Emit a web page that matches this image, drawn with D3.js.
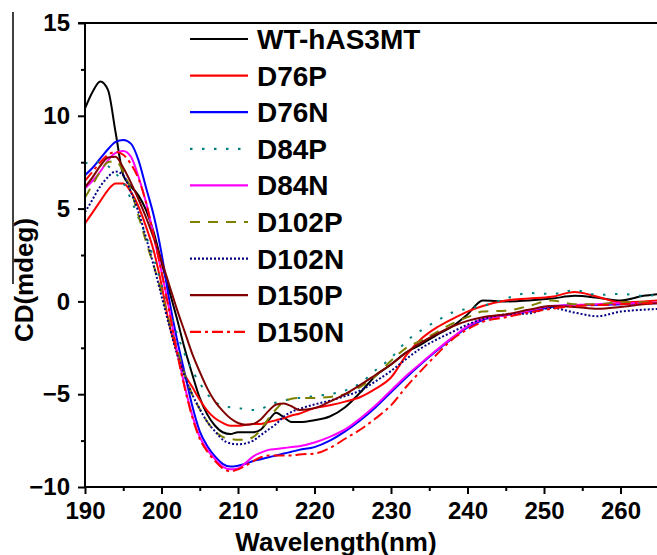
<!DOCTYPE html>
<html>
<head>
<meta charset="utf-8">
<script src="https://cdn.jsdelivr.net/npm/d3@7"></script>
<style>
  body { margin: 0; background: #fff; }
  text { font-family: "Liberation Sans", Arial, sans-serif; font-weight: bold; fill: #000; }
</style>
</head>
<body>
<svg id="chart" width="657" height="555"></svg>
<script>
// wavelength grid (nm) shared by every spectrum
var wavelength = [190,191,192,193,194,195,196,197,198,199,200,201,202,203,204,205,206,207,208,209,
  210,211,212,213,214,215,216,217,218,220,222,224,226,228,230,232,234,236,238,240,242,
  245,248,251,254,257,260,263,265];

var wt = [10.4,11.3,11.85,11.4,9.1,6.8,6.2,5.7,4.9,3.7,2.1,0.6,-0.9,-2.5,-3.9,-5.2,-6.1,-6.7,-7.05,-7.15,
  -7.05,-7.05,-7.05,-6.9,-6.4,-6.0,-6.25,-6.5,-6.5,-6.4,-6.2,-5.7,-4.9,-4.0,-3.4,-2.75,-2.3,-1.8,-1.35,-0.7,0.05,
  0.0,0.05,0.15,0.3,0.2,0.05,0.3,0.4];
var d76p = [4.2,4.8,5.4,6.0,6.35,6.35,5.9,5.1,4.0,2.7,0.9,-1.2,-2.7,-3.9,-4.6,-5.3,-5.9,-6.3,-6.55,-6.7,
  -6.7,-6.65,-6.6,-6.6,-6.5,-6.4,-6.3,-6.15,-6.05,-5.75,-5.6,-5.4,-5.15,-4.7,-4.1,-2.9,-2.0,-1.4,-0.95,-0.55,-0.25,
  0.05,0.15,0.25,0.5,0.25,-0.05,0.0,0.05];
var d76n = [6.8,7.2,7.7,8.2,8.6,8.7,8.5,7.6,6.1,4.6,2.6,0.1,-2.0,-3.8,-5.6,-7.0,-7.8,-8.35,-8.75,-8.9,
  -8.85,-8.75,-8.6,-8.5,-8.4,-8.3,-8.2,-8.1,-8.0,-7.85,-7.5,-7.0,-6.4,-5.7,-4.9,-4.1,-3.35,-2.65,-2.0,-1.4,-1.0,
  -0.75,-0.55,-0.3,-0.2,-0.2,-0.15,-0.1,-0.1];
var d84p = [7.45,7.5,7.5,7.3,6.9,6.4,5.5,4.5,3.5,2.3,0.9,-0.4,-1.7,-2.8,-3.7,-4.4,-5.0,-5.4,-5.65,-5.7,
  -5.75,-5.8,-5.85,-5.8,-5.6,-5.45,-5.35,-5.25,-5.2,-5.1,-5.0,-4.8,-4.4,-3.7,-3.05,-2.15,-1.55,-1.05,-0.6,-0.4,-0.25,
  0.15,0.45,0.4,0.6,0.35,0.4,0.3,0.35];
var d84n = [6.1,6.5,7.0,7.6,8.0,8.1,7.8,6.7,5.3,3.5,1.6,-0.4,-2.6,-4.5,-6.1,-7.3,-8.0,-8.5,-8.9,-9.05,
  -9.0,-8.7,-8.35,-8.15,-8.0,-7.95,-7.9,-7.85,-7.8,-7.6,-7.3,-6.9,-6.3,-5.6,-4.8,-4.0,-3.3,-2.6,-1.95,-1.35,-0.95,
  -0.75,-0.5,-0.25,-0.2,-0.15,-0.1,-0.1,-0.05];
var d102p = [5.6,6.3,7.0,7.5,7.55,7.0,6.0,4.6,3.2,1.9,0.5,-1.1,-2.5,-3.9,-5.0,-5.8,-6.5,-7.0,-7.3,-7.4,
  -7.45,-7.45,-7.3,-6.9,-6.3,-5.8,-5.4,-5.25,-5.2,-5.2,-5.15,-5.0,-4.6,-4.0,-3.2,-2.5,-2.1,-1.65,-1.2,-0.85,-0.55,
  -0.5,-0.25,0.05,-0.15,-0.15,-0.05,-0.05,-0.05];
var d102n = [4.8,5.5,6.2,6.7,7.0,6.8,5.9,4.8,3.4,1.9,0.3,-1.3,-2.8,-4.0,-5.0,-5.8,-6.5,-7.0,-7.45,-7.65,
  -7.7,-7.65,-7.5,-7.2,-6.9,-6.6,-6.2,-5.95,-5.8,-5.55,-5.35,-5.1,-4.8,-4.3,-3.75,-3.1,-2.5,-2.05,-1.65,-1.25,-0.95,
  -0.7,-0.65,-0.35,-0.6,-0.8,-0.55,-0.45,-0.4];
var d150p = [6.15,6.7,7.3,7.75,7.8,7.2,6.4,5.5,4.5,3.4,2.2,0.9,-0.4,-1.6,-2.8,-3.8,-4.7,-5.4,-5.9,-6.3,
  -6.55,-6.65,-6.6,-6.35,-5.9,-5.55,-5.5,-5.65,-5.85,-5.75,-5.4,-5.0,-4.5,-3.95,-3.4,-2.75,-2.2,-1.75,-1.35,-1.05,-0.85,
  -0.7,-0.45,-0.25,-0.3,-0.4,-0.3,-0.15,-0.1];
var d150n = [6.5,7.0,7.5,7.9,8.05,7.9,7.4,6.6,5.3,3.5,1.6,-0.5,-2.7,-4.6,-6.2,-7.4,-8.1,-8.6,-9.0,-9.15,
  -9.05,-8.85,-8.6,-8.4,-8.3,-8.3,-8.3,-8.3,-8.25,-8.2,-7.9,-7.4,-6.9,-6.3,-5.6,-4.6,-3.7,-2.85,-2.05,-1.5,-1.1,
  -0.85,-0.6,-0.4,-0.25,-0.2,-0.15,-0.1,-0.1];

var names = ["WT-hAS3MT","D76P","D76N","D84P","D84N","D102P","D102N","D150P","D150N"];
var values = [wt, d76p, d76n, d84p, d84n, d102p, d102n, d150p, d150n];
var colors = ["#000000","#ff0000","#0000ff","#008080","#ff00ff","#808000","#000080","#800000","#ff0000"];
var dashes = [null, null, null, "2.5,9.5", null, "10,8", "2,2", null, "11,4,3,4"];

var xTicks = [190,200,210,220,230,240,250,260];
var yTicks = [-10,-5,0,5,10,15];

var svg = d3.select("#chart");
// note: "top" is taken by window.top, so plot edges get their own names
var pLeft = 85, pRight = 658.75, pTop = 23, pBottom = 487;

var x = d3.scaleLinear().domain([190, 265]).range([pLeft, pRight]);
var y = d3.scaleLinear().domain([-10, 15]).range([pBottom, pTop]);

svg.append("clipPath").attr("id", "plotclip")
    .append("rect").attr("x", pLeft).attr("y", pTop)
    .attr("width", pRight - pLeft).attr("height", pBottom - pTop);

// spectra
var line = d3.line()
    .x(d => x(d[0]))
    .y(d => y(d[1]))
    .curve(d3.curveMonotoneX);

var plot = svg.append("g").attr("clip-path", "url(#plotclip)");
names.forEach(function(n, i){
    var pts = wavelength.map((w, j) => [w, values[i][j]]);
    plot.append("path")
	.attr("d", line(pts))
	.attr("fill", "none")
	.attr("stroke", colors[i])
	.attr("stroke-width", 2)
	.attr("stroke-dasharray", dashes[i]);
});

// axes: major ticks with labels, minor ticks in between
var xAxis = svg.append("g").attr("transform", "translate(0," + pBottom + ")")
    .call(d3.axisBottom(x).tickValues(xTicks).tickSize(7).tickPadding(8).tickFormat(d3.format("d")));
svg.append("g").attr("transform", "translate(0," + pBottom + ")")
    .call(d3.axisBottom(x).tickValues(d3.range(195, 266, 10)).tickSize(4).tickFormat(""));

var yAxis = svg.append("g").attr("transform", "translate(" + pLeft + ",0)")
    .call(d3.axisLeft(y).tickValues(yTicks).tickSize(7).tickPadding(8));
svg.append("g").attr("transform", "translate(" + pLeft + ",0)")
    .call(d3.axisLeft(y).tickValues(d3.range(-7.5, 15, 5)).tickSize(4).tickFormat(""));

svg.selectAll(".domain").remove();
svg.selectAll(".tick line").attr("stroke", "#000").attr("stroke-width", 2);
xAxis.selectAll("text").style("font-size", "24px");
yAxis.selectAll("text").style("font-size", "24px");

// frame lines
svg.append("line").attr("x1", pLeft).attr("x2", pLeft).attr("y1", pTop - 1).attr("y2", pBottom + 1)
    .attr("stroke", "#000").attr("stroke-width", 2);
svg.append("line").attr("x1", pLeft - 1).attr("x2", 657).attr("y1", pBottom).attr("y2", pBottom)
    .attr("stroke", "#000").attr("stroke-width", 2);
svg.append("line").attr("x1", pLeft - 7).attr("x2", 657).attr("y1", pTop).attr("y2", pTop)
    .attr("stroke", "#000").attr("stroke-width", 2);

// axis titles
svg.append("text")
    .attr("x", 336).attr("y", 551)
    .attr("text-anchor", "middle")
    .style("font-size", "26px")
    .text("Wavelength(nm)");

svg.append("text")
    .attr("transform", "translate(33,280) rotate(-90)")
    .attr("text-anchor", "middle")
    .style("font-size", "26px")
    .text("CD(mdeg)");
// stray rule above the y title
svg.append("line").attr("x1", 13).attr("x2", 13).attr("y1", 12).attr("y2", 284)
    .attr("stroke", "#000").attr("stroke-width", 1.5);

// legend
var legend = svg.append("g");
names.forEach(function(n, i){
    var ly = 39 + i * 36.6;
    legend.append("line")
	.attr("x1", 190).attr("x2", 248).attr("y1", ly).attr("y2", ly)
	.attr("stroke", colors[i])
	.attr("stroke-width", 2.2)
	.attr("stroke-dasharray", dashes[i]);
    legend.append("text")
	.attr("x", 257).attr("y", ly + 10)
	.style("font-size", "28px")
	.text(n);
});
</script>
</body>
</html>
